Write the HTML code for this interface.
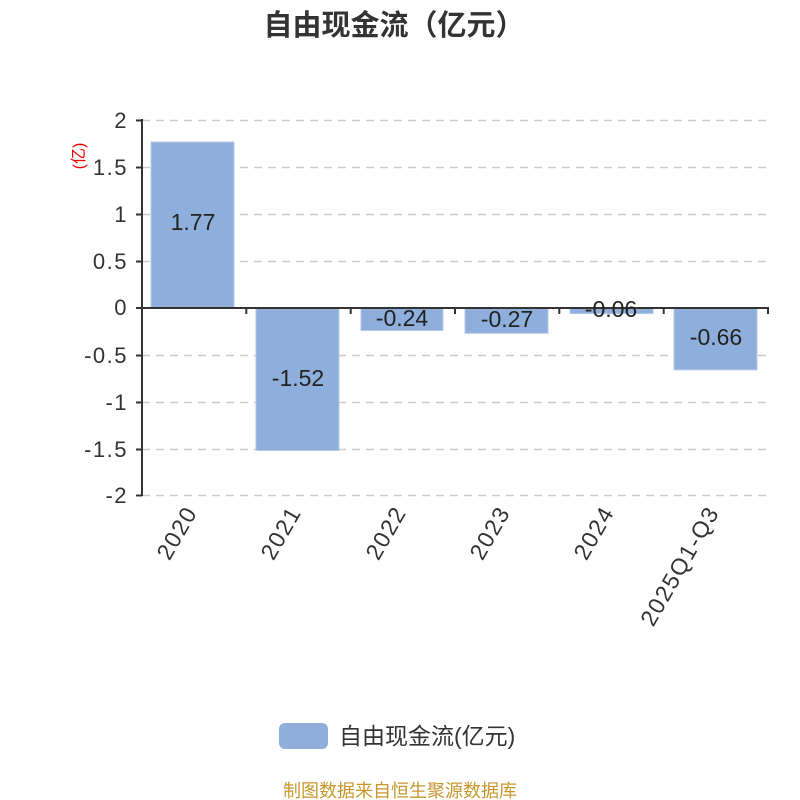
<!DOCTYPE html>
<html><head><meta charset="utf-8"><style>
html,body{margin:0;padding:0;background:#fff;}
svg{display:block;font-family:"Liberation Sans","Noto Sans CJK SC",sans-serif;}
</style></head><body>
<svg width="800" height="800" viewBox="0 0 800 800" xmlns="http://www.w3.org/2000/svg">
<text x="394" y="35" text-anchor="middle" font-size="29" font-weight="bold" fill="#333">自由现金流（亿元）</text>
<g stroke="#ccc" stroke-width="1.5" stroke-dasharray="8,6">
<line x1="142" y1="120.5" x2="768" y2="120.5"/>
<line x1="142" y1="167.5" x2="768" y2="167.5"/>
<line x1="142" y1="214.5" x2="768" y2="214.5"/>
<line x1="142" y1="261.5" x2="768" y2="261.5"/>
<line x1="142" y1="355.5" x2="768" y2="355.5"/>
<line x1="142" y1="402.5" x2="768" y2="402.5"/>
<line x1="142" y1="449.5" x2="768" y2="449.5"/>
<line x1="142" y1="495.5" x2="768" y2="495.5"/>
</g>
<g fill="#8eaedb" stroke="#b5cbea" stroke-width="1">
<rect x="151" y="142" width="83" height="166"/>
<rect x="256" y="308" width="83" height="142.5"/>
<rect x="361" y="308" width="82" height="22.5"/>
<rect x="465" y="308" width="83" height="25.3"/>
<rect x="570" y="308" width="83" height="5.6"/>
<rect x="674" y="308" width="83" height="61.9"/>
</g>
<g stroke="#333" stroke-width="2" fill="none">
<line x1="142" y1="119" x2="142" y2="496"/>
<line x1="141" y1="308" x2="769" y2="308"/>
<line x1="136" y1="120.5" x2="142" y2="120.5"/>
<line x1="136" y1="167.5" x2="142" y2="167.5"/>
<line x1="136" y1="214.5" x2="142" y2="214.5"/>
<line x1="136" y1="261.5" x2="142" y2="261.5"/>
<line x1="136" y1="308" x2="142" y2="308"/>
<line x1="136" y1="355.5" x2="142" y2="355.5"/>
<line x1="136" y1="402.5" x2="142" y2="402.5"/>
<line x1="136" y1="449.5" x2="142" y2="449.5"/>
<line x1="136" y1="495.5" x2="142" y2="495.5"/>
<line x1="246.3" y1="308" x2="246.3" y2="314"/>
<line x1="350.7" y1="308" x2="350.7" y2="314"/>
<line x1="455" y1="308" x2="455" y2="314"/>
<line x1="559.3" y1="308" x2="559.3" y2="314"/>
<line x1="663.7" y1="308" x2="663.7" y2="314"/>
<line x1="768" y1="308" x2="768" y2="314"/>
</g>
<g font-size="22" fill="#333" text-anchor="end" letter-spacing="1.5">
<text x="128" y="128">2</text>
<text x="128" y="175">1.5</text>
<text x="128" y="222">1</text>
<text x="128" y="269">0.5</text>
<text x="128" y="315">0</text>
<text x="128" y="363">-0.5</text>
<text x="128" y="410">-1</text>
<text x="128" y="457">-1.5</text>
<text x="128" y="503">-2</text>
</g>
<text transform="translate(84,156) rotate(-90)" text-anchor="middle" font-size="16" fill="#e00">(亿)</text>
<g font-size="23" fill="#222" text-anchor="middle">
<text x="193" y="230">1.77</text>
<text x="298" y="386">-1.52</text>
<text x="402" y="326">-0.24</text>
<text x="507" y="327">-0.27</text>
<text x="611" y="317">-0.06</text>
<text x="716" y="345">-0.66</text>
</g>
<g font-size="23" fill="#333" text-anchor="end" letter-spacing="1.5">
<text transform="translate(198,512) rotate(-60)">2020</text>
<text transform="translate(302,512) rotate(-60)">2021</text>
<text transform="translate(407,512) rotate(-60)">2022</text>
<text transform="translate(511,512) rotate(-60)">2023</text>
<text transform="translate(615,512) rotate(-60)">2024</text>
<text transform="translate(720,512) rotate(-60)">2025Q1-Q3</text>
</g>
<rect x="279" y="723" width="49" height="26" rx="6" fill="#8eaedb"/>
<text x="339" y="744" font-size="23" fill="#333">自由现金流(亿元)</text>
<text x="400" y="797" text-anchor="middle" font-size="18" fill="#c8962e">制图数据来自恒生聚源数据库</text>
</svg>
</body></html>
